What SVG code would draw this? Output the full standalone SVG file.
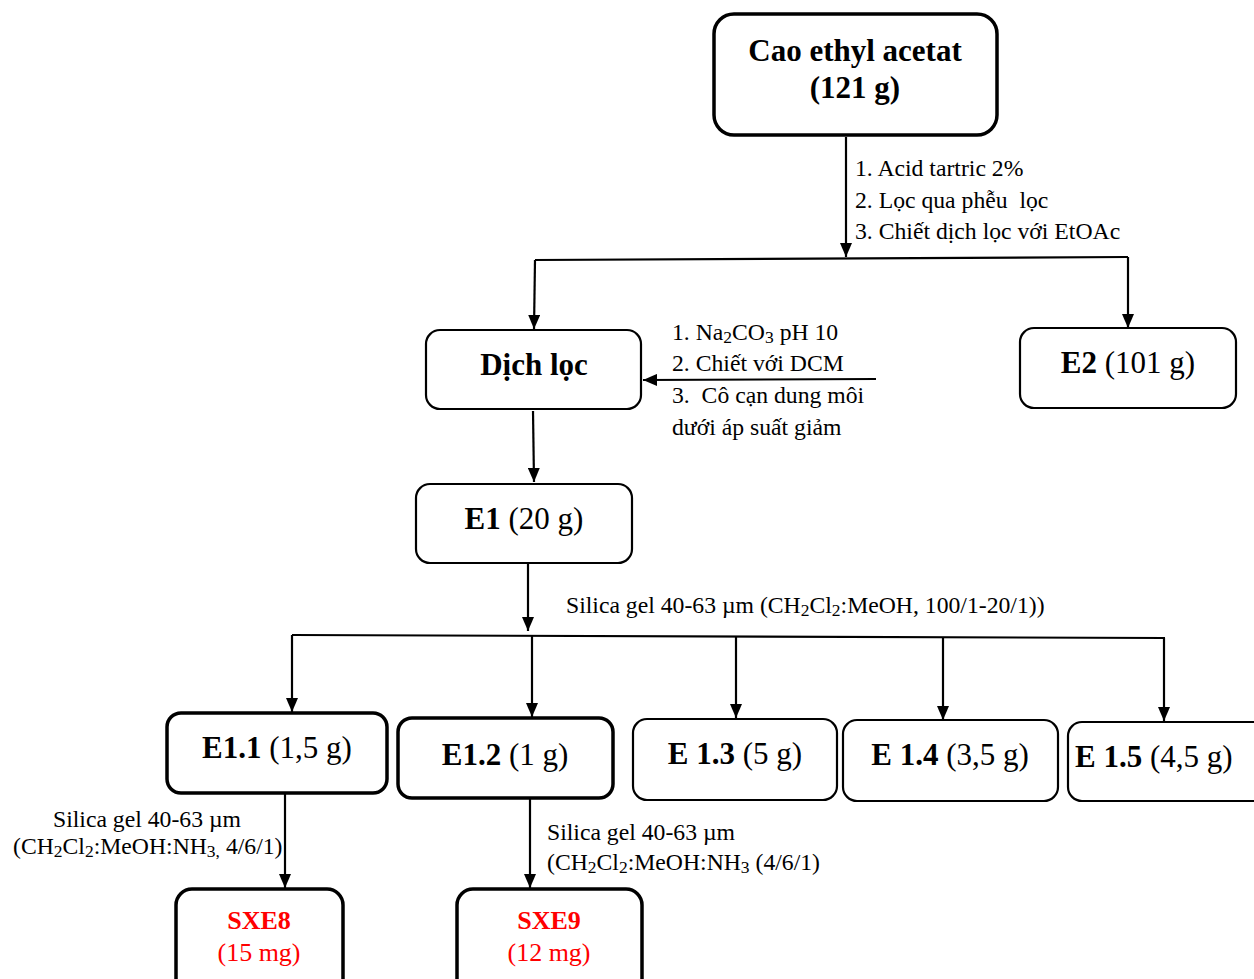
<svg xmlns="http://www.w3.org/2000/svg" width="1254" height="979" viewBox="0 0 1254 979">
<defs>
<marker id="ah" viewBox="0 0 14 12" refX="14" refY="6" markerWidth="14" markerHeight="12" markerUnits="userSpaceOnUse" orient="auto">
<path d="M0,0 L14,6 L0,12 z" fill="#000"/>
</marker>
<style>
.box{fill:#fff;stroke:#000;}
.thick{stroke-width:3.5;}
.thin{stroke-width:2.2;}
.lbl{font-family:"Liberation Serif","Times New Roman",serif;font-size:31px;fill:#000;text-anchor:middle;}
.b{font-weight:bold;}
.note{font-family:"Liberation Serif","Times New Roman",serif;font-size:23.7px;fill:#000;}
.sub{font-size:17.5px;}
.red{fill:#ff0000;font-size:26px;}
.con{fill:none;stroke:#000;stroke-width:2.2;}
.arr{fill:none;stroke:#000;stroke-width:2.2;marker-end:url(#ah);}
</style>
</defs>
<rect width="1254" height="979" fill="#fff"/>

<g id="connectors">
<line class="arr" x1="846" y1="137" x2="846" y2="257"/>
<polyline class="con" points="535,260 1128,257"/>
<line class="arr" x1="535" y1="260" x2="534" y2="329"/>
<line class="arr" x1="1128" y1="257" x2="1128" y2="328"/>
<line class="arr" x1="876" y1="379" x2="643" y2="380"/>
<line class="arr" x1="533" y1="411" x2="534" y2="482"/>
<line class="arr" x1="528" y1="564" x2="528" y2="631"/>
<line class="con" x1="292" y1="635" x2="1165" y2="638"/>
<line class="arr" x1="292" y1="635" x2="292" y2="712"/>
<line class="arr" x1="532" y1="636" x2="532" y2="717"/>
<line class="arr" x1="736" y1="636" x2="736" y2="718"/>
<line class="arr" x1="943" y1="637" x2="943" y2="720"/>
<line class="arr" x1="1164" y1="638" x2="1164" y2="721"/>
<line class="arr" x1="285" y1="794" x2="285" y2="888"/>
<line class="arr" x1="530" y1="799" x2="530" y2="888"/>
</g>

<g id="n-cao">
<rect class="box thick" x="714" y="14" width="283" height="121" rx="20"/>
<text class="lbl b" x="855" y="61" font-size="31.5">Cao ethyl acetat</text>
<text class="lbl b" x="855" y="98" font-size="31.5">(121 g)</text>
</g>

<g id="lbl-step1">
<text class="note" x="855" y="176">1. Acid tartric 2%</text>
<text class="note" x="855" y="208" xml:space="preserve">2. Lọc qua phễu  lọc</text>
<text class="note" x="855" y="239">3. Chiết dịch lọc với EtOAc</text>
</g>

<g id="n-dichloc">
<rect class="box thin" x="426" y="330" width="215" height="79" rx="14"/>
<text class="lbl b" x="534" y="375">Dịch lọc</text>
</g>

<g id="n-e2">
<rect class="box thin" x="1020" y="328" width="216" height="80" rx="14"/>
<text class="lbl" x="1128" y="373"><tspan class="b">E2</tspan> (101 g)</text>
</g>

<g id="lbl-step2">
<text class="note" x="672" y="340">1. Na<tspan class="sub" dy="3">2</tspan><tspan dy="-3">CO</tspan><tspan class="sub" dy="3">3</tspan><tspan dy="-3"> pH 10</tspan></text>
<text class="note" x="672" y="371">2. Chiết với DCM</text>
<text class="note" x="672" y="403" xml:space="preserve">3.  Cô cạn dung môi</text>
<text class="note" x="672" y="435">dưới áp suất giảm</text>
</g>

<g id="n-e1">
<rect class="box thin" x="416" y="484" width="216" height="79" rx="14"/>
<text class="lbl" x="524" y="529"><tspan class="b">E1</tspan> (20 g)</text>
</g>

<g id="lbl-step3">
<text class="note" x="566" y="613" font-size="24.5">Silica gel 40-63 µm (CH<tspan class="sub" dy="3">2</tspan><tspan dy="-3">Cl</tspan><tspan class="sub" dy="3">2</tspan><tspan dy="-3">:MeOH, 100/1-20/1))</tspan></text>
</g>

<g id="n-e11">
<rect class="box thick" x="167" y="713" width="220" height="80" rx="14"/>
<text class="lbl" x="277" y="758"><tspan class="b">E1.1</tspan> (1,5 g)</text>
</g>

<g id="n-e12">
<rect class="box thick" x="398" y="718" width="215" height="80" rx="14"/>
<text class="lbl" x="505" y="765"><tspan class="b">E1.2</tspan> (1 g)</text>
</g>

<g id="n-e13">
<rect class="box thin" x="633" y="719" width="204" height="81" rx="14"/>
<text class="lbl" x="735" y="764"><tspan class="b">E 1.3</tspan> (5 g)</text>
</g>

<g id="n-e14">
<rect class="box thin" x="843" y="720" width="215" height="81" rx="14"/>
<text class="lbl" x="950" y="765"><tspan class="b">E 1.4</tspan> (3,5 g)</text>
</g>

<g id="n-e15">
<rect class="box thin" x="1068" y="722" width="200" height="79" rx="14"/>
<text class="lbl" x="1075" y="767" style="text-anchor:start"><tspan class="b">E 1.5</tspan> (4,5 g)</text>
</g>

<g id="lbl-step4">
<text class="note" x="147" y="827" font-size="24" text-anchor="middle">Silica gel 40-63 µm</text>
<text class="note" x="13" y="854" font-size="24">(CH<tspan class="sub" dy="3">2</tspan><tspan dy="-3">Cl</tspan><tspan class="sub" dy="3">2</tspan><tspan dy="-3">:MeOH:NH</tspan><tspan class="sub" dy="3">3,</tspan><tspan dy="-3"> 4/6/1)</tspan></text>
</g>

<g id="lbl-step5">
<text class="note" x="547" y="840" font-size="24">Silica gel 40-63 µm</text>
<text class="note" x="547" y="870" font-size="24.3">(CH<tspan class="sub" dy="3">2</tspan><tspan dy="-3">Cl</tspan><tspan class="sub" dy="3">2</tspan><tspan dy="-3">:MeOH:NH</tspan><tspan class="sub" dy="3">3</tspan><tspan dy="-3"> (4/6/1)</tspan></text>
</g>

<g id="n-sxe8">
<rect class="box thick" x="176" y="889" width="167" height="110" rx="16"/>
<text class="lbl b red" x="259" y="929">SXE8</text>
<text class="lbl red" x="259" y="961">(15 mg)</text>
</g>

<g id="n-sxe9">
<rect class="box thick" x="457" y="889" width="185" height="110" rx="16"/>
<text class="lbl b red" x="549" y="929">SXE9</text>
<text class="lbl red" x="549" y="961">(12 mg)</text>
</g>
</svg>
